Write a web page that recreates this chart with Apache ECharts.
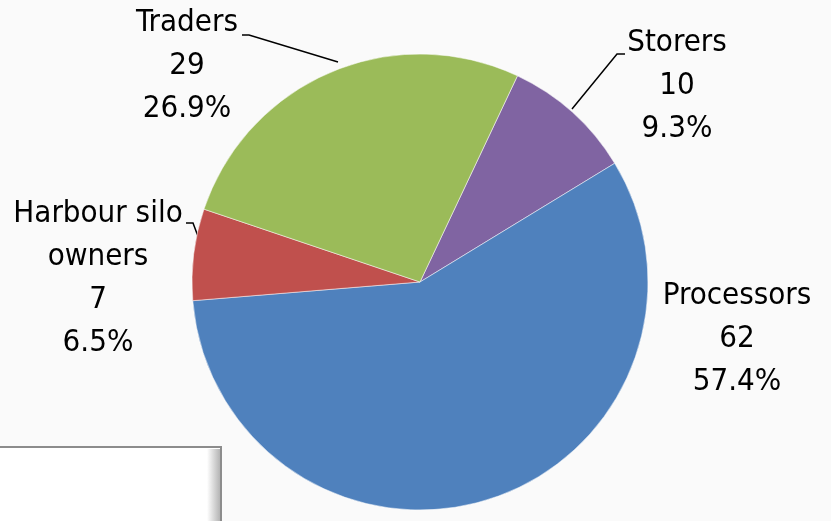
<!DOCTYPE html>
<html>
<head>
<meta charset="utf-8">
<title>Pie</title>
<script src="https://cdn.jsdelivr.net/npm/echarts@6/dist/echarts.min.js"></script>
</head>
<body style="margin:0; background:#fafafa;">
<div id="main" style="width:831px; height:521px;"></div>
<script type="text/javascript">

// slices in clockwise order, starting at the purple one
var names = ['Storers', 'Processors', 'Harbour silo\nowners', 'Traders'];
var values = [10, 62, 7, 29];
var colors = ['#8064A2', '#4F81BD', '#C0504D', '#9BBB59'];

var total = values.reduce(function (a, b) { return a + b; }, 0);

// where each label sits (centre of text block) and its leader line
var labelPos = [
  { x: 677, y: 86, line: [[625, 54], [617, 54], [572, 109]] },
  { x: 737, y: 339, line: null },
  { x: 98, y: 278, line: [[186, 223], [193, 223], [202, 247]] },
  { x: 187, y: 66, line: [[242, 35], [249, 35], [338, 62]] }
];

var chartDom = document.getElementById('main');
var myChart = echarts.init(chartDom);
var option;

var data = names.map(function (n, i) {
  return {
    name: n,
    value: values[i],
    itemStyle: { color: colors[i] },
    labelLine: { show: labelPos[i].line != null }
  };
});

option = {
  backgroundColor: '#fafafa',
  animation: false,
  graphic: [
    {
      type: 'rect',
      shape: { x: -3, y: 447, width: 224, height: 80 },
      style: { fill: '#ffffff', stroke: '#8c8c8c', lineWidth: 2 }
    },
    {
      type: 'rect',
      shape: { x: 207, y: 449, width: 13, height: 80 },
      style: {
        fill: new echarts.graphic.LinearGradient(0, 0, 1, 0, [
          { offset: 0, color: '#ffffff' },
          { offset: 1, color: '#b4b4b4' }
        ])
      }
    }
  ],
  series: [
    {
      type: 'pie',
      center: [420, 282],
      radius: 228,
      startAngle: 64.7,
      data: data,
      itemStyle: { borderColor: '#ffffff', borderWidth: 0.5 },
      label: {
        show: true,
        fontFamily: '"Liberation Sans Narrow", "DejaVu Sans Condensed", sans-serif',
        fontSize: 31,
        lineHeight: 43,
        color: '#000',
        align: 'center',
        overflow: 'none',
        formatter: function (p) {
          return p.name + '\n' + p.value + '\n' + (p.value / total * 100).toFixed(1) + '%';
        }
      },
      labelLine: {
        show: true,
        lineStyle: { color: '#000', width: 1.5 }
      },
      labelLayout: function (params) {
        var lp = labelPos[params.dataIndex];
        var out = { x: lp.x, y: lp.y, align: 'center', verticalAlign: 'middle' };
        if (lp.line) out.labelLinePoints = lp.line;
        return out;
      }
    }
  ]
};

option && myChart.setOption(option);
</script>
</body>
</html>
